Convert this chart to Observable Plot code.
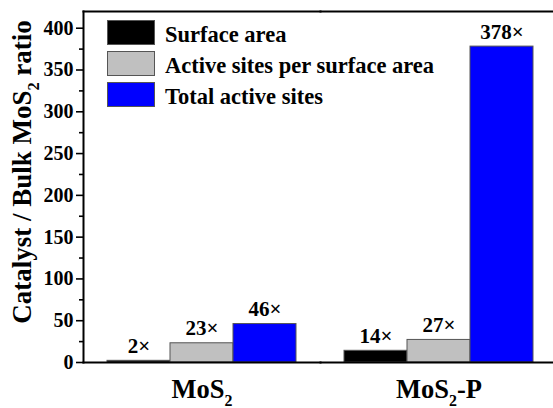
<!DOCTYPE html>
<html>
<head>
<meta charset="utf-8">
<script src="https://cdn.jsdelivr.net/npm/d3@7"></script>
<script src="https://cdn.jsdelivr.net/npm/@observablehq/plot@0.6"></script>
<style>
  html, body { margin: 0; padding: 0; background: #fff; overflow: hidden; }
  #chart { position: relative; width: 553px; height: 408px; font-family: "Liberation Serif", "Times New Roman", Times, "DejaVu Serif", serif; }
  #chart svg { display: block; font-family: inherit; }
  #legend { position: absolute; left: 107px; top: 20px; display: grid; grid-template-columns: 48px auto; column-gap: 10px; row-gap: 4px; }
  #legend .sw { width: 46px; height: 23px; border: 1px solid #555; }
  #legend .lb { font-size: 22.5px; font-weight: bold; line-height: 25px; padding-top: 2px; height: 25px; color: #000; white-space: nowrap; }
</style>
</head>
<body>
<div id="chart"></div>
<script>
// ---- data ----
const groups = ["MoS2", "MoS2-P"];
const series = ["Surface area", "Active sites per surface area", "Total active sites"];
const surfaceArea = [2, 14];
const activeSitesPerArea = [23, 27];
const totalActiveSites = [46, 378];
const colors = ["#000000", "#c0c0c0", "#0000ff"];
const yTicks = [0, 50, 100, 150, 200, 250, 300, 350, 400];
const yMinorTicks = [25, 75, 125, 175, 225, 275, 325, 375];
const yLabel = "Catalyst / Bulk MoS2 ratio";

const seriesValues = [surfaceArea, activeSitesPerArea, totalActiveSites];
const data = groups.flatMap((g, i) =>
  series.map((s, j) => ({ group: g, series: s, value: seriesValues[j][i] }))
);

const fontStack = "'Liberation Serif', 'Times New Roman', Times, 'DejaVu Serif', serif";

const plot = Plot.plot({
  width: 553,
  height: 408,
  marginLeft: 83,
  marginRight: -4,
  marginTop: 11,
  marginBottom: 46,
  style: { fontFamily: fontStack, fontWeight: "bold", background: "transparent", color: "#000", overflow: "visible" },
  fx: { domain: groups, padding: 0, label: null },
  x: { domain: series, paddingInner: 0, paddingOuter: 0.38, axis: null },
  y: { domain: [0, 420], axis: null },
  color: { domain: series, range: colors },
  marks: [
    Plot.barY(data, { fx: "group", x: "series", y: "value", fill: "series", stroke: "#555", strokeWidth: 1 }),
    Plot.text(data, { fx: "group", x: "series", y: "value", text: d => d.value + "×", lineAnchor: "bottom", dy: -8, fontSize: 21, fill: "#000" }),
    Plot.frame({ anchor: "top", strokeWidth: 2 }),
    Plot.frame({ anchor: "bottom", strokeWidth: 2 }),
    Plot.frame({ anchor: "left", strokeWidth: 2, facetAnchor: "left" }),
    Plot.axisY({ ticks: yTicks, tickSize: 7, tickPadding: 3, fontSize: 20, strokeWidth: 1.6, label: null, facetAnchor: "left" }),
    Plot.axisY({ ticks: yMinorTicks, tickSize: 4, text: null, strokeWidth: 1.6, label: null, facetAnchor: "left" }),
    Plot.axisFx({ anchor: "bottom", tickSize: 0, tickPadding: 17, fontSize: 26.5, label: null }),
    Plot.text([yLabel], { text: d => d, frameAnchor: "left", textAnchor: "middle", lineAnchor: "middle", rotate: -90, dx: -61, dy: -15, fontSize: 27, fill: "#000", facetAnchor: "left" })
  ]
});

document.getElementById("chart").appendChild(plot);

// subscript the "2" in MoS2
function subscriptize(el) {
  const txt = el.textContent;
  if (!txt.includes("MoS2")) return;
  const fs = parseFloat(getComputedStyle(el).fontSize) || 16;
  const shift = fs * 0.28;
  const parts = txt.split("MoS2");
  while (el.firstChild) el.removeChild(el.firstChild);
  const ns = "http://www.w3.org/2000/svg";
  parts.forEach((p, i) => {
    if (i > 0) {
      const sub = document.createElementNS(ns, "tspan");
      sub.setAttribute("dy", shift);
      sub.setAttribute("font-size", fs * 0.6);
      sub.textContent = "2";
      el.appendChild(sub);
      if (p.length) {
        const rest = document.createElementNS(ns, "tspan");
        rest.setAttribute("dy", -shift);
        rest.textContent = p;
        el.appendChild(rest);
      }
    } else {
      el.appendChild(document.createTextNode(p + "MoS"));
    }
  });
}
plot.querySelectorAll("text").forEach(t => {
  const tsp = t.querySelectorAll("tspan");
  if (tsp.length) tsp.forEach(subscriptize); else subscriptize(t);
});

// legend
const legend = d3.select("#chart").append("div").attr("id", "legend");
series.forEach((s, i) => {
  legend.append("div").attr("class", "sw").style("background", colors[i]);
  legend.append("div").attr("class", "lb").text(s);
});
</script>
</body>
</html>
